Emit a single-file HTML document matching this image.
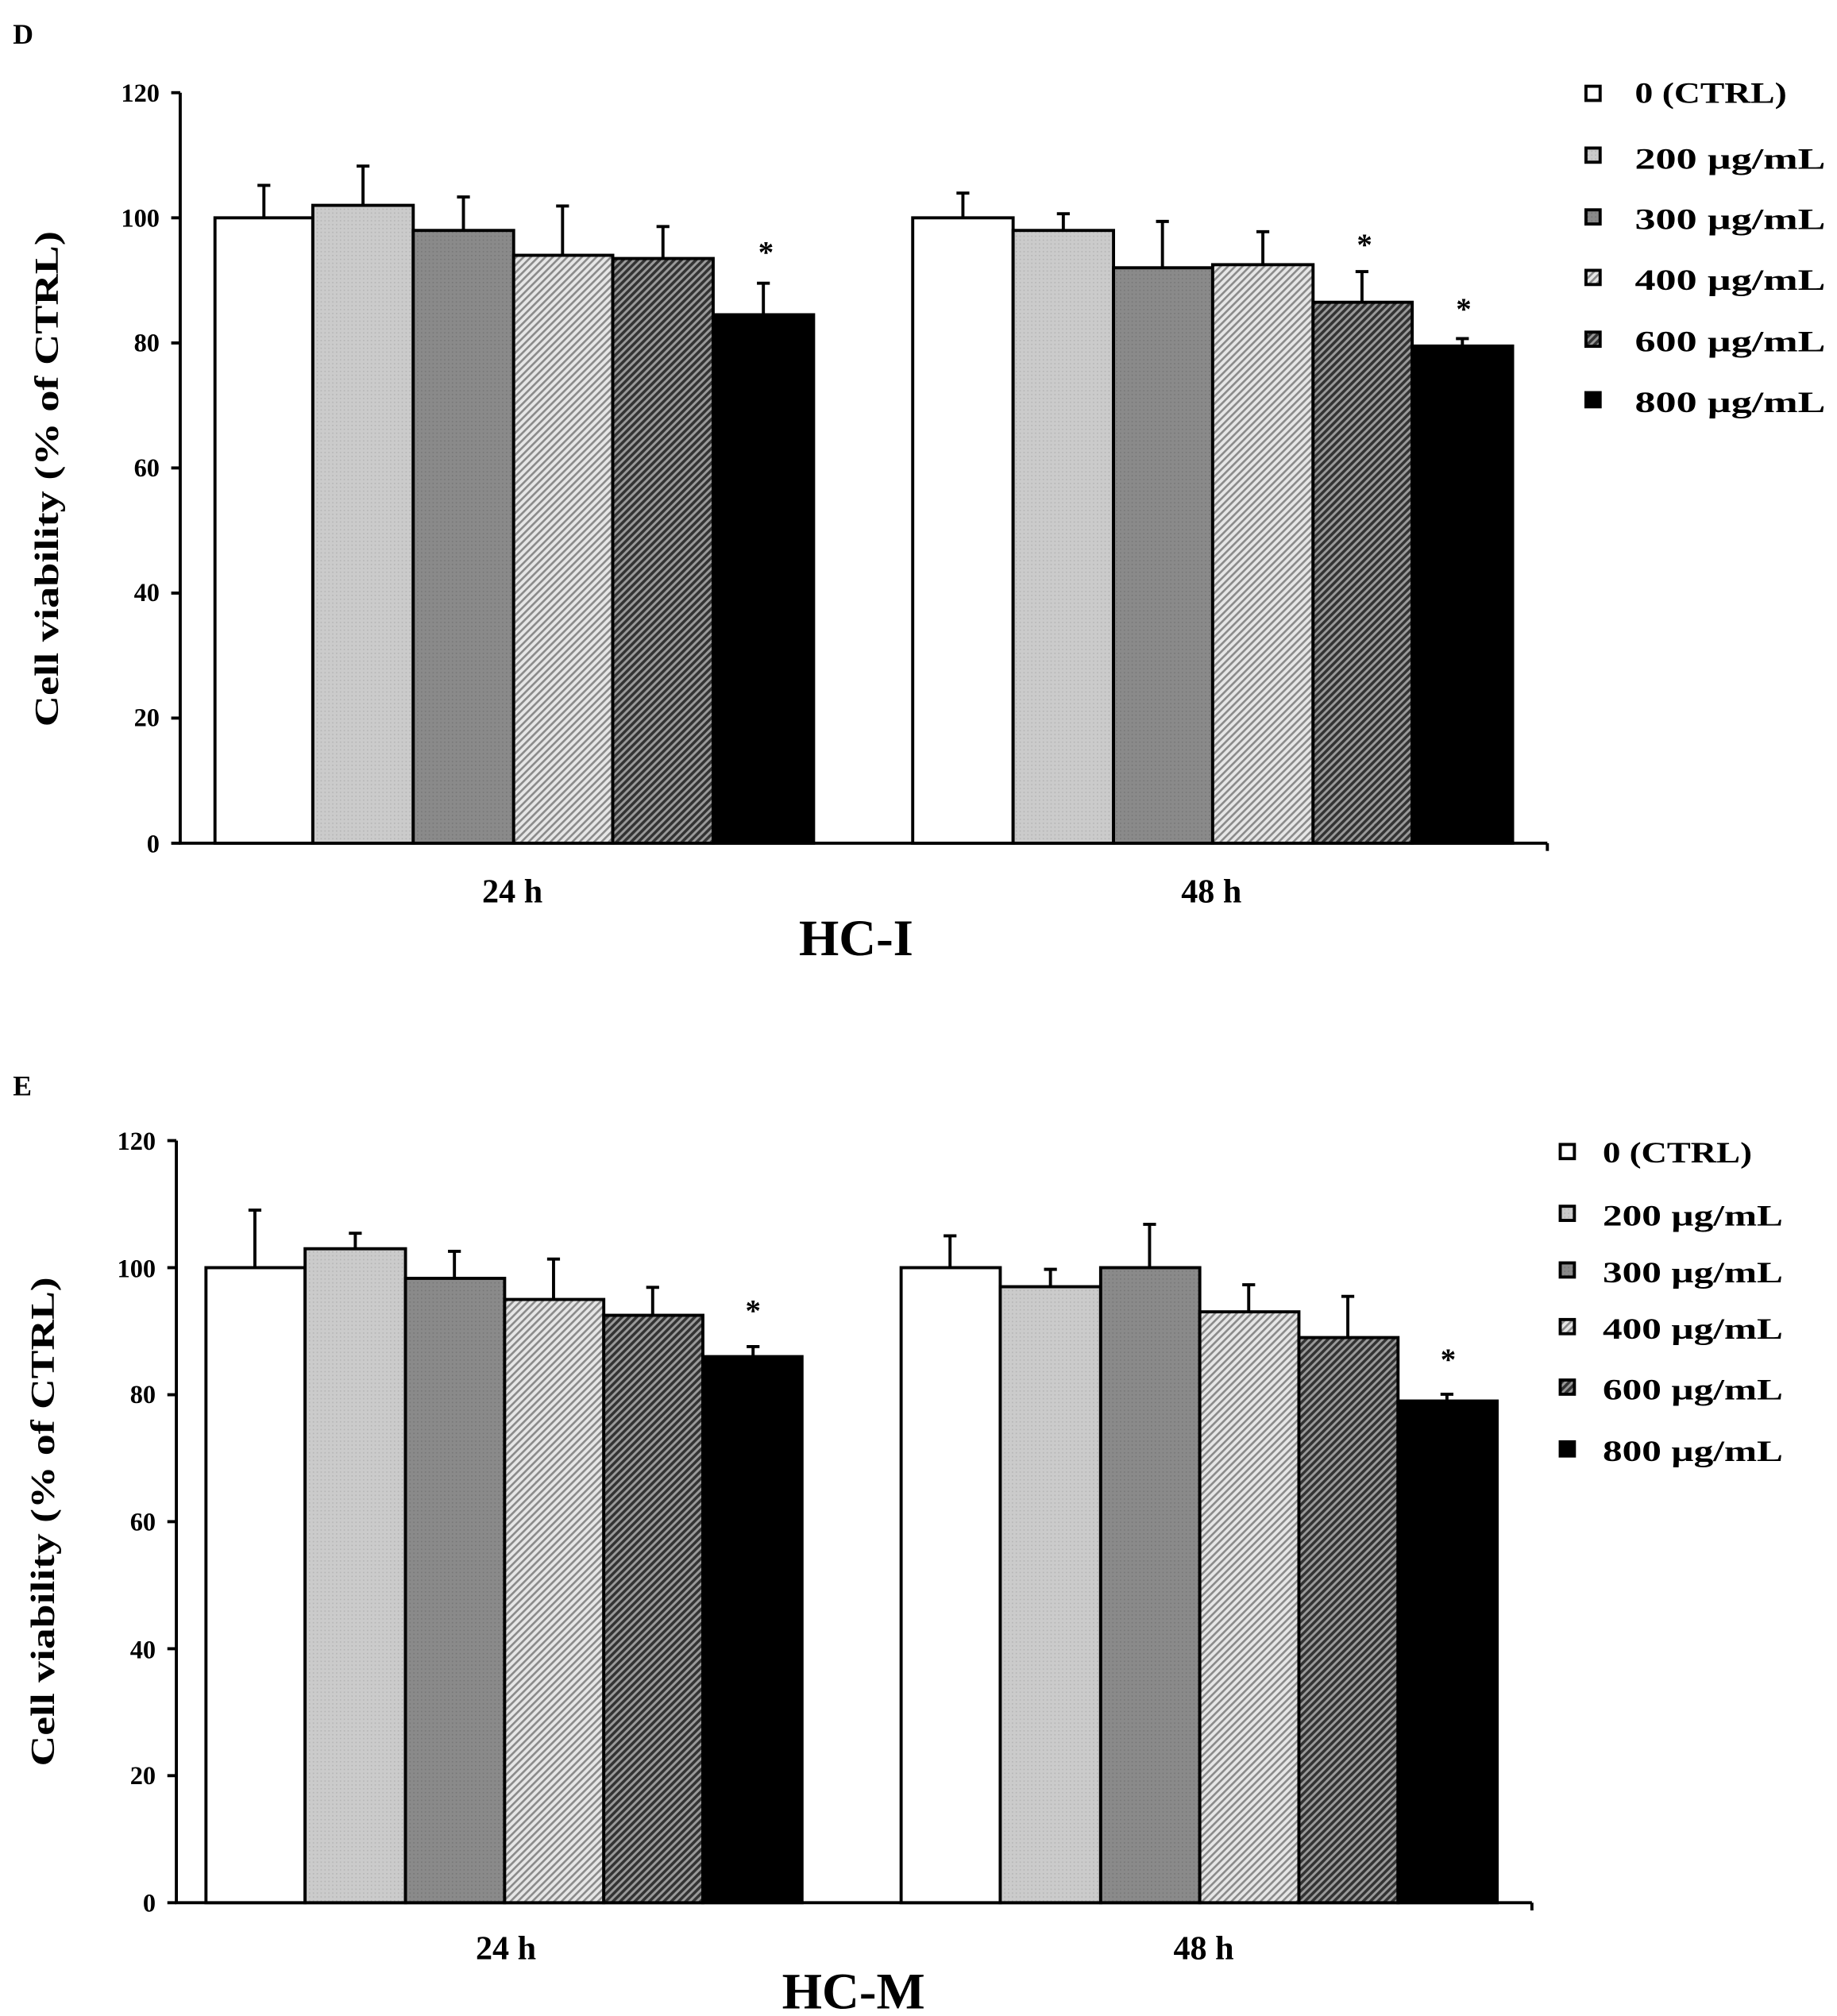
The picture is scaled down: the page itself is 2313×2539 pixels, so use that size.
<!DOCTYPE html>
<html><head><meta charset="utf-8"><style>
html,body{margin:0;padding:0;background:#fff}
svg{display:block}
text{font-family:"Liberation Serif",serif;font-weight:bold;fill:#000}
</style></head><body>
<svg width="2313" height="2539" viewBox="0 0 1427 1566" preserveAspectRatio="none">
<defs>
<pattern id="p200" width="3" height="3" patternUnits="userSpaceOnUse"><rect width="3" height="3" fill="#cbcbcb"/><rect width="1" height="1" fill="#b5b5b5"/></pattern>
<pattern id="p300" width="3" height="3" patternUnits="userSpaceOnUse"><rect width="3" height="3" fill="#8a8a8a"/><rect width="1" height="1" fill="#777"/></pattern>
<pattern id="p400" width="4" height="4" patternUnits="userSpaceOnUse" patternTransform="rotate(45)"><rect width="4" height="4" fill="#e6e6e6"/><rect width="1.6" height="4" fill="#8a8a8a"/></pattern>
<pattern id="p600" width="4" height="4" patternUnits="userSpaceOnUse" patternTransform="rotate(45)"><rect width="4" height="4" fill="#9a9a9a"/><rect width="2.2" height="4" fill="#333"/></pattern>
</defs>
<g stroke="#000" stroke-width="2.4">
<line x1="140" y1="72" x2="140" y2="656"/>
<line x1="139" y1="655" x2="1202" y2="655"/>
<line x1="133" y1="72" x2="140" y2="72"/><line x1="133" y1="169.2" x2="140" y2="169.2"/><line x1="133" y1="266.4" x2="140" y2="266.4"/><line x1="133" y1="363.5" x2="140" y2="363.5"/><line x1="133" y1="460.7" x2="140" y2="460.7"/><line x1="133" y1="557.8" x2="140" y2="557.8"/><line x1="133" y1="655" x2="140" y2="655"/>
<line x1="1202" y1="655" x2="1202" y2="661"/>
<path d="M205 169V144M200 144H210 M282 159V129M277 129H287 M360 179V153M355 153H365 M437 198V160M432 160H442 M515 201V176M510 176H520 M593 244V220M588 220H598" fill="none"/>
<path d="M748 169V150M743 150H753 M826 179V166M821 166H831 M903 208V172M898 172H908 M981 206V180M976 180H986 M1058 235V211M1053 211H1063 M1136 269V263M1131 263H1141" fill="none"/>
<rect x="167" y="169.2" width="76" height="485.8" fill="#fff"/>
<rect x="243" y="159.5" width="78" height="495.5" fill="url(#p200)"/>
<rect x="321" y="179" width="78" height="476" fill="url(#p300)"/>
<rect x="399" y="198.3" width="77" height="456.7" fill="url(#p400)"/>
<rect x="476" y="200.8" width="78" height="454.2" fill="url(#p600)"/>
<rect x="554" y="244.5" width="78" height="410.5" fill="#000"/>
<rect x="709" y="169.2" width="78" height="485.8" fill="#fff"/>
<rect x="787" y="179" width="78" height="476" fill="url(#p200)"/>
<rect x="865" y="208" width="77" height="447" fill="url(#p300)"/>
<rect x="942" y="205.6" width="78" height="449.4" fill="url(#p400)"/>
<rect x="1020" y="234.8" width="77" height="420.2" fill="url(#p600)"/>
<rect x="1097" y="268.8" width="78" height="386.2" fill="#000"/>
<rect x="1232" y="67" width="11" height="11" fill="#fff"/>
<rect x="1232" y="115" width="11" height="11" fill="url(#p200)"/>
<rect x="1232" y="163" width="11" height="11" fill="url(#p300)"/>
<rect x="1232" y="210" width="11" height="11" fill="url(#p400)"/>
<rect x="1232" y="258" width="11" height="11" fill="url(#p600)"/>
<rect x="1232" y="305" width="11" height="11" fill="#000"/>
<line x1="137" y1="886" x2="137" y2="1479"/>
<line x1="136" y1="1478" x2="1190" y2="1478"/>
<line x1="130" y1="886" x2="137" y2="886"/><line x1="130" y1="984.7" x2="137" y2="984.7"/><line x1="130" y1="1083.4" x2="137" y2="1083.4"/><line x1="130" y1="1182" x2="137" y2="1182"/><line x1="130" y1="1280.7" x2="137" y2="1280.7"/><line x1="130" y1="1379.3" x2="137" y2="1379.3"/><line x1="130" y1="1478" x2="137" y2="1478"/>
<line x1="1190" y1="1478" x2="1190" y2="1484"/>
<path d="M198 985V940M193 940H203 M276 970V958M271 958H281 M353 993V972M348 972H358 M430 1009V978M425 978H435 M507 1022V1000M502 1000H512 M585 1054V1046M580 1046H590" fill="none"/>
<path d="M738 985V960M733 960H743 M816 1000V986M811 986H821 M893 985V951M888 951H898 M970 1019V998M965 998H975 M1047 1039V1007M1042 1007H1052 M1124 1088V1083M1119 1083H1129" fill="none"/>
<rect x="160" y="984.7" width="77" height="493.3" fill="#fff"/>
<rect x="237" y="970" width="78" height="508" fill="url(#p200)"/>
<rect x="315" y="993" width="77" height="485" fill="url(#p300)"/>
<rect x="392" y="1009.4" width="77" height="468.6" fill="url(#p400)"/>
<rect x="469" y="1021.7" width="77" height="456.3" fill="url(#p600)"/>
<rect x="546" y="1053.8" width="77" height="424.2" fill="#000"/>
<rect x="700" y="984.7" width="77" height="493.3" fill="#fff"/>
<rect x="777" y="999.5" width="78" height="478.5" fill="url(#p200)"/>
<rect x="855" y="984.7" width="77" height="493.3" fill="url(#p300)"/>
<rect x="932" y="1019" width="77" height="459" fill="url(#p400)"/>
<rect x="1009" y="1039" width="77" height="439" fill="url(#p600)"/>
<rect x="1086" y="1088.3" width="77" height="389.7" fill="#000"/>
<rect x="1212" y="889" width="11" height="11" fill="#fff"/>
<rect x="1212" y="937" width="11" height="11" fill="url(#p200)"/>
<rect x="1212" y="981" width="11" height="11" fill="url(#p300)"/>
<rect x="1212" y="1025" width="11" height="11" fill="url(#p400)"/>
<rect x="1212" y="1072" width="11" height="11" fill="url(#p600)"/>
<rect x="1212" y="1120" width="11" height="11" fill="#000"/>
</g>
<text x="10" y="34" font-size="22">D</text>
<g font-size="20" text-anchor="end">
<text x="124" y="79">120</text><text x="124" y="176">100</text><text x="124" y="273">80</text><text x="124" y="370">60</text><text x="124" y="467">40</text><text x="124" y="564">20</text><text x="124" y="662">0</text>
</g>
<text transform="translate(45,372) rotate(-90)" font-size="26" text-anchor="middle" textLength="385" lengthAdjust="spacingAndGlyphs">Cell viability  (% of CTRL)</text>
<g font-size="24"><text x="595" y="204" text-anchor="middle">*</text><text x="1060" y="198" text-anchor="middle">*</text><text x="1137" y="248" text-anchor="middle">*</text></g>
<text x="398" y="701" font-size="26" text-anchor="middle">24 h</text>
<text x="941" y="701" font-size="26" text-anchor="middle">48 h</text>
<text x="665" y="742" font-size="40" text-anchor="middle">HC-I</text>
<g font-size="23">
<text x="1270" y="80" textLength="118" lengthAdjust="spacingAndGlyphs">0 (CTRL)</text>
<text x="1270" y="131" textLength="148" lengthAdjust="spacingAndGlyphs">200 µg/mL</text>
<text x="1270" y="178" textLength="148" lengthAdjust="spacingAndGlyphs">300 µg/mL</text>
<text x="1270" y="225" textLength="148" lengthAdjust="spacingAndGlyphs">400 µg/mL</text>
<text x="1270" y="273" textLength="148" lengthAdjust="spacingAndGlyphs">600 µg/mL</text>
<text x="1270" y="320" textLength="148" lengthAdjust="spacingAndGlyphs">800 µg/mL</text>
</g>
<text x="10" y="851" font-size="22">E</text>
<g font-size="20" text-anchor="end">
<text x="121" y="893">120</text><text x="121" y="992">100</text><text x="121" y="1090">80</text><text x="121" y="1189">60</text><text x="121" y="1288">40</text><text x="121" y="1386">20</text><text x="121" y="1485">0</text>
</g>
<text transform="translate(42,1182) rotate(-90)" font-size="26" text-anchor="middle" textLength="380" lengthAdjust="spacingAndGlyphs">Cell viability  (% of CTRL)</text>
<g font-size="24"><text x="585" y="1026" text-anchor="middle">*</text><text x="1125" y="1064" text-anchor="middle">*</text></g>
<text x="393" y="1522" font-size="26" text-anchor="middle">24 h</text>
<text x="935" y="1522" font-size="26" text-anchor="middle">48 h</text>
<text x="663" y="1560" font-size="40" text-anchor="middle">HC-M</text>
<g font-size="23">
<text x="1245" y="903" textLength="116" lengthAdjust="spacingAndGlyphs">0 (CTRL)</text>
<text x="1245" y="952" textLength="140" lengthAdjust="spacingAndGlyphs">200 µg/mL</text>
<text x="1245" y="996" textLength="140" lengthAdjust="spacingAndGlyphs">300 µg/mL</text>
<text x="1245" y="1040" textLength="140" lengthAdjust="spacingAndGlyphs">400 µg/mL</text>
<text x="1245" y="1087" textLength="140" lengthAdjust="spacingAndGlyphs">600 µg/mL</text>
<text x="1245" y="1135" textLength="140" lengthAdjust="spacingAndGlyphs">800 µg/mL</text>
</g>
</svg>
</body></html>
